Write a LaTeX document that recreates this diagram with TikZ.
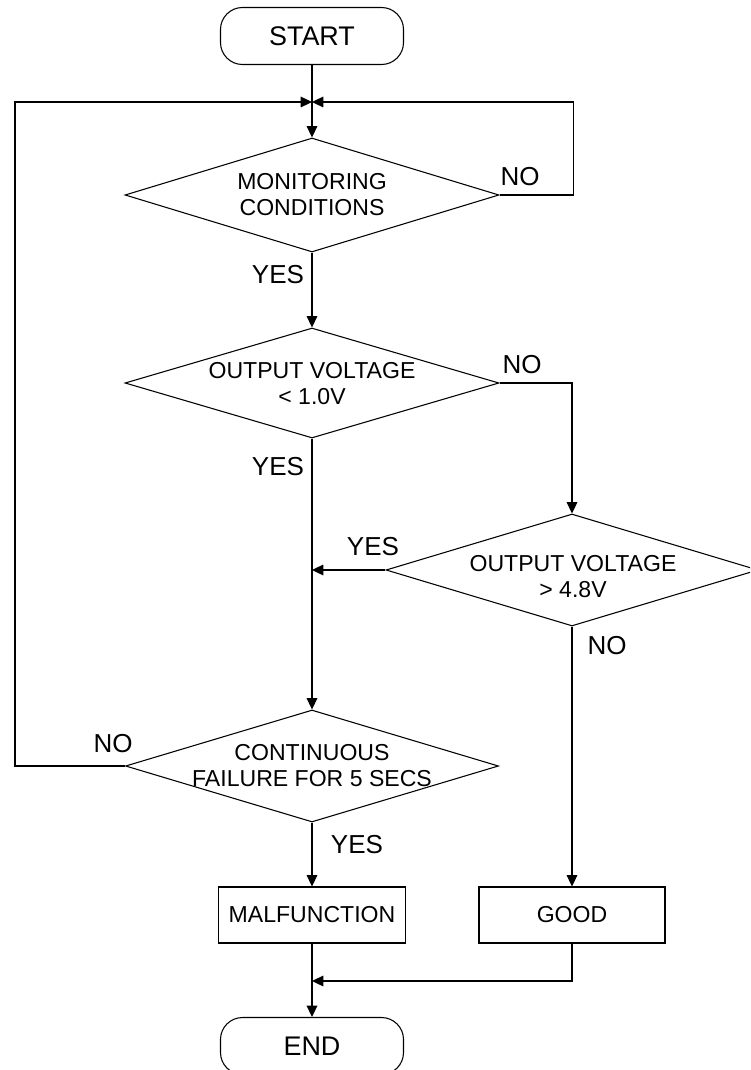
\documentclass[tikz,border=0pt]{standalone}
\usepackage{fontspec}
\setmainfont{Liberation Sans}
\usetikzlibrary{shapes.geometric,arrows.meta}
\newcommand\pxu{0.75pt}
\begin{document}
\begin{tikzpicture}[x=0.75pt,y=-0.75pt,
  line width=0.8pt,
  arr/.style={-{Triangle[length=8.5pt,width=8pt]}},
  term/.style={draw, rectangle, rounded corners=22*\pxu, minimum width=183*\pxu, minimum height=57*\pxu, inner sep=0pt, font=\fontsize{20.2pt}{24pt}\selectfont},
  dia/.style={draw, diamond, inner sep=0pt, minimum width=374*\pxu, minimum height=114*\pxu},
  dtext/.style={align=center, font=\fontsize{17.3pt}{19.5pt}\selectfont},
  procbox/.style={draw, rectangle, minimum width=187*\pxu, minimum height=56*\pxu, inner sep=0pt, font=\fontsize{17.3pt}{20pt}\selectfont},
  lab/.style={font=\fontsize{19.5pt}{22pt}\selectfont, inner sep=0pt}
]
\clip (0,0) rectangle (750,1070);
\fill[white] (0,0) rectangle (750,1070);

\node[term] (start) at (312,36) {START};
\node[dia] (d1) at (312,195) {};
\node[dtext] (t1) at (312,195) {MONITORING\\CONDITIONS};
\node[dia, minimum height=110*\pxu] (d2) at (312,383) {};
\node[dtext] (t2) at (312,384) {OUTPUT VOLTAGE\\< 1.0V};
\node[dia, minimum width=372*\pxu, minimum height=112*\pxu] (d3) at (572,570) {};
\node[dtext] (t3) at (573,577) {OUTPUT VOLTAGE\\> 4.8V};
\node[dia, minimum width=373*\pxu, minimum height=112*\pxu] (d4) at (312,766) {};
\node[dtext] (t4) at (312,766) {CONTINUOUS\\FAILURE FOR 5 SECS};
\node[procbox] (mal) at (312,915) {MALFUNCTION};
\node[procbox, minimum width=186*\pxu] (good) at (572,915) {GOOD};
\node[term] (end) at (312,1046) {END};

\coordinate (j1) at (312,102);
\coordinate (j2) at (312,570);
\coordinate (j3) at (312,981);

\draw (start.south) -- (j1);
\draw[arr] (j1) -- (d1.north);
\draw[arr] (d1.east) -- ++(74,0) |- (j1);
\draw[arr] (d4.west) -- ++(-110,0) |- (j1);
\draw[arr] (d1.south) -- (d2.north);
\draw[arr] (d2.east) -| (d3.north);
\draw[arr] (d2.south) -- (d4.north);
\draw[arr] (d3.west) -- (j2);
\draw[arr] (d3.south) -- (good.north);
\draw[arr] (d4.south) -- (mal.north);
\draw (mal.south) -- (j3);
\draw[arr] (j3) -- (end.north);
\draw[arr] (good.south) |- (j3);

\node[lab] (no1) at (520,177) {NO};
\node[lab] (yes1) at (278,275) {YES};
\node[lab] (no2) at (522,365) {NO};
\node[lab] (yes2) at (278,467) {YES};
\node[lab] (yes3) at (373,547) {YES};
\node[lab] (no3) at (607,646) {NO};
\node[lab] (no4) at (113,744) {NO};
\node[lab] (yes4) at (357,845) {YES};
\end{tikzpicture}
\end{document}
